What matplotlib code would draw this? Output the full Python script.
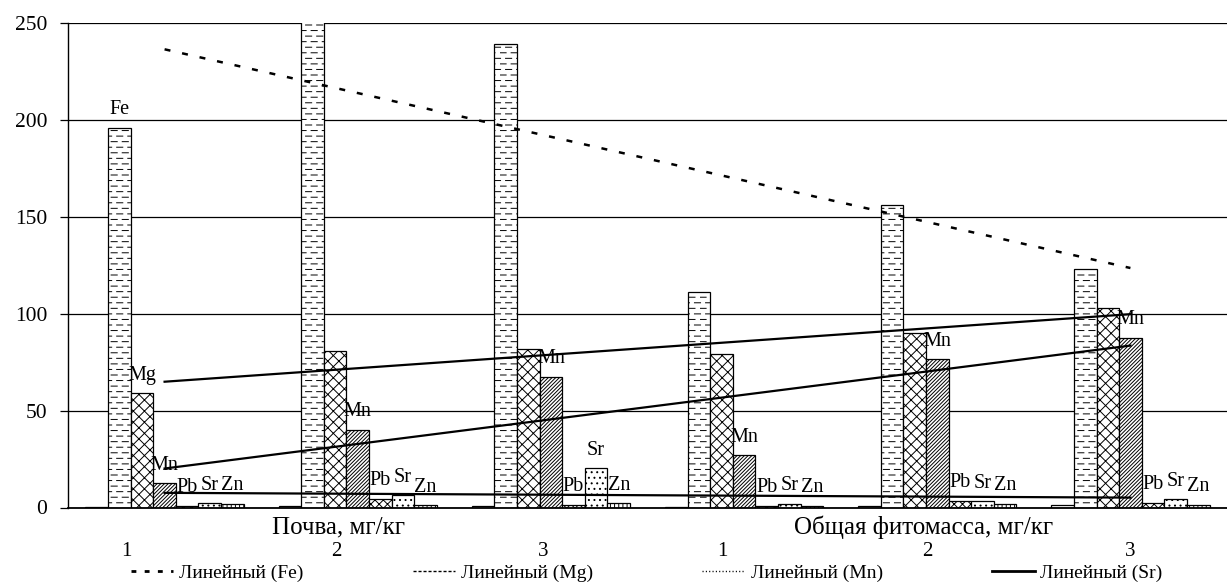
import warnings
import numpy as np
import matplotlib
matplotlib.use("Agg")
import matplotlib.pyplot as plt
import matplotlib.hatch as mhatch
import matplotlib.transforms as mtransforms
from matplotlib.path import Path
from matplotlib.lines import Line2D

warnings.filterwarnings("ignore", category=matplotlib.MatplotlibDeprecationWarning)

# ---- data -------------------------------------------------------------
group_titles = ["Почва, мг/кг", "Общая фитомасса, мг/кг"]
site_labels = ["1", "2", "3", "1", "2", "3"]

minor = [0.3, 1.0, 1.0, 0.4, 1.0, 1.2]
fe = [196, 255, 239, 111, 156, 123]
mg = [59, 81, 82, 79, 90, 103]
mn = [12.5, 40, 67.5, 27, 76.5, 87.5]
pb = [0.8, 4.5, 1.5, 0.8, 3.5, 2.5]
sr = [2.2, 6.2, 20.2, 2.0, 3.2, 4.2]
zn = [1.8, 1.2, 2.2, 0.8, 1.8, 1.5]

series_names = ["", "Fe", "Mg", "Mn", "Pb", "Sr", "Zn"]
# sites (by index) where the element name is printed above the bar
named_sites = {"Fe": [0], "Mg": [0], "Mn": [0, 1, 2, 3, 4, 5],
               "Pb": [0, 1, 2, 3, 4, 5], "Sr": [0, 1, 2, 3, 4, 5],
               "Zn": [0, 1, 2, 3, 4, 5]}
trend_names = ["Fe", "Mg", "Mn", "Sr"]


# ---- extra fill patterns ----------------------------------------------
class DashRowHatch(mhatch.HatchPatternBase):
    """Rows of short staggered horizontal dashes ('d')."""

    def __init__(self, hatch, density):
        n = hatch.count("d")
        self.segments = []
        if n:
            rows, cols = 18 * n, 9
            p = 1.0 / cols
            length = 0.55 * p
            for r in range(rows):
                y = (r + 0.5) / rows
                off = 0.5 * p if r % 2 else 0.0
                for c in range(-1, cols + 1):
                    a = max(c * p + off, 0.0)
                    b = min(c * p + off + length, 1.0)
                    if b - a > 1e-6:
                        self.segments.append((a, b, y))
        self.num_vertices = 2 * len(self.segments)

    def set_vertices_and_codes(self, vertices, codes):
        for i, (a, b, y) in enumerate(self.segments):
            vertices[2 * i] = (a, y)
            vertices[2 * i + 1] = (b, y)
            codes[2 * i] = Path.MOVETO
            codes[2 * i + 1] = Path.LINETO


class OpenCrossHatch(mhatch.HatchPatternBase):
    """Diagonal cross-hatch with a medium spacing ('k')."""

    def __init__(self, hatch, density):
        self.num_lines = 18 * hatch.count("k")
        self.num_vertices = 4 * (self.num_lines + 1) if self.num_lines else 0

    def set_vertices_and_codes(self, vertices, codes):
        n = self.num_lines + 1
        steps = np.linspace(-0.5, 0.5, n)
        v1 = vertices[: 2 * n]
        v2 = vertices[2 * n:]
        v1[0::2, 0] = 0.0 + steps
        v1[0::2, 1] = 0.0 - steps
        v1[1::2, 0] = 1.0 + steps
        v1[1::2, 1] = 1.0 - steps
        v2[0::2, 0] = 0.0 + steps
        v2[0::2, 1] = 1.0 + steps
        v2[1::2, 0] = 1.0 + steps
        v2[1::2, 1] = 0.0 + steps
        codes[0::2] = Path.MOVETO
        codes[1::2] = Path.LINETO


mhatch._hatch_types.extend([DashRowHatch, OpenCrossHatch])

# ---- style ------------------------------------------------------------
plt.rcParams["font.family"] = ["Liberation Serif", "DejaVu Serif"]
plt.rcParams["hatch.linewidth"] = 0.7
plt.rcParams["lines.scale_dashes"] = False

W, H = 1227, 585
fig = plt.figure(figsize=(W / 100, H / 100), dpi=100)
ax = fig.add_axes([68 / W, 77.5 / H, 1159 / W, 484.5 / H])

x = np.arange(len(site_labels))
width = 0.117
series = [minor, fe, mg, mn, pb, sr, zn]
hatches = ["---", "d", "k", "/" * 9, "xxxx", "...", "||||"]

for k, (name, vals, h) in enumerate(zip(series_names, series, hatches)):
    pos = x + (k - 3) * width
    ax.bar(pos, vals, width, color="white", edgecolor="black",
           linewidth=0.9, hatch=h, zorder=2)
    for i in named_sites.get(name, []):
        ax.annotate(name, (pos[i], vals[i]), xytext=(0, 13),
                    textcoords="offset points", ha="center", va="center",
                    fontsize=14.5, color="black", zorder=4)

# linear trends across the six sites
trend_data = {"Fe": fe, "Mg": mg, "Mn": mn, "Sr": sr}
for name in trend_names:
    coef = np.polyfit(x, trend_data[name], 1)
    xs = x[[0, -1]]
    if name == "Fe":
        ax.plot(xs, np.polyval(coef, xs), color="black", lw=1.8,
                dashes=(4.3, 8.6), zorder=3)
    else:
        ax.plot(xs, np.polyval(coef, xs), color="black", lw=1.6, zorder=3)

ax.set_xlim(-0.5, 5.5)
ax.set_ylim(0, 250)
ax.set_yticks(np.arange(0, 251, 50))
ax.yaxis.grid(True, color="black", linewidth=0.9)
ax.set_axisbelow(True)
for s in ("top", "right"):
    ax.spines[s].set_visible(False)
ax.spines["left"].set_linewidth(1.0)
ax.spines["bottom"].set_linewidth(1.3)
ax.tick_params(axis="y", direction="out", length=6, width=0.9,
               labelsize=15.5, pad=9)

site_shift = [-0.2, -0.11, -0.04, -0.11, -0.05, 0.0]
ax.set_xticks(x + np.array(site_shift))
ax.set_xticklabels(site_labels, fontsize=15)
ax.tick_params(axis="x", length=0, pad=25)

blend = mtransforms.blended_transform_factory(ax.transData, ax.transAxes)
ax.text(0.9, -0.041, group_titles[0], transform=blend, ha="center",
        va="center", fontsize=18)
ax.text(3.93, -0.041, group_titles[1], transform=blend, ha="center",
        va="center", fontsize=18)

# legend entries for the trend lines
handles = [
    Line2D([], [], color="black", lw=2.0, dashes=(3.5, 6.0)),
    Line2D([], [], color="black", lw=1.0, dashes=(2.2, 1.4)),
    Line2D([], [], color="black", lw=1.0, dashes=(0.8, 1.6)),
    Line2D([], [], color="black", lw=2.0),
]
labels = [f"Линейный ({n})" for n in trend_names]
fig.legend(handles, labels, loc="center", bbox_to_anchor=(0.527, 0.021),
           ncol=4, frameon=False, fontsize=14, handlelength=2.2,
           handletextpad=0.3, columnspacing=5.6, borderpad=0.1)

fig.savefig("out.png", dpi=100)
